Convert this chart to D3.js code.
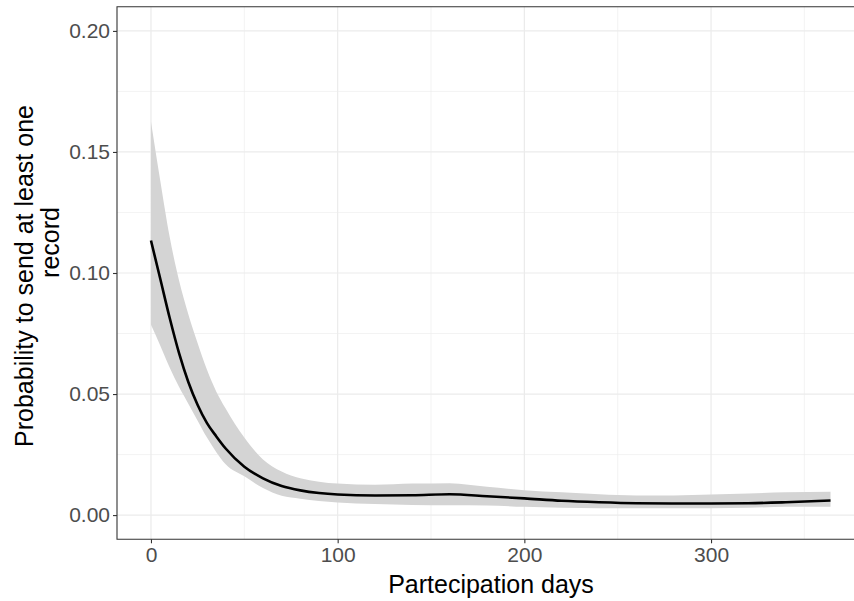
<!DOCTYPE html>
<html>
<head>
<meta charset="utf-8">
<script src="https://cdn.jsdelivr.net/npm/d3@7"></script>
<style>
    html, body { margin: 0; padding: 0; background: #fff; overflow: hidden; }
    svg { display: block; overflow: hidden; font-family: "Liberation Sans", Arial, sans-serif; }
</style>
</head>
<body>
<div id="chart"></div>
<script>
// smoothed probability curve with confidence band
const days  = [0, 5, 10, 15, 20, 25, 30, 35, 40, 50, 60, 70, 80, 90, 100, 120, 140, 160, 180, 200, 220, 240, 260, 280, 300, 320, 340, 364];
const fit   = [0.1134, 0.0975, 0.0815, 0.0670, 0.0550, 0.0455, 0.0380, 0.0325, 0.0275, 0.0200, 0.0152, 0.0120, 0.0102, 0.0091, 0.0085, 0.0081, 0.0082, 0.0086, 0.0078, 0.0069, 0.0059, 0.0053, 0.0049, 0.0048, 0.0048, 0.0049, 0.0053, 0.0060];
const upper = [0.1625, 0.138, 0.115, 0.097, 0.083, 0.071, 0.060, 0.051, 0.044, 0.032, 0.0230, 0.0180, 0.0152, 0.0138, 0.0130, 0.0125, 0.0130, 0.0132, 0.0117, 0.0103, 0.0094, 0.0086, 0.0081, 0.0081, 0.0085, 0.0089, 0.0094, 0.0096];
const lower = [0.0786, 0.070, 0.061, 0.053, 0.046, 0.039, 0.032, 0.026, 0.021, 0.016, 0.0112, 0.0080, 0.0068, 0.0058, 0.0052, 0.0046, 0.0042, 0.0041, 0.0040, 0.0034, 0.0030, 0.0028, 0.0028, 0.0028, 0.0028, 0.0030, 0.0034, 0.0034];

const xTicks = [0, 100, 200, 300];
const xMinor = [50, 150, 250, 350];
const yTicks = [0, 0.05, 0.10, 0.15, 0.20];
const yMinor = [0.025, 0.075, 0.125, 0.175];

const xTitle = 'Partecipation days';
const yTitle = ['Probability to send at least one', 'record'];

const width = 854, height = 601;
// panel runs past the right edge of the picture, as in the reference
const panel = { left: 117, right: 864.5, top: 6.7, bottom: 539.3 };

const svg = d3.select('#chart').append('svg')
    .attr('width', width)
    .attr('height', height);

const x = d3.scaleLinear().domain([-18.2, 382.2]).range([panel.left, panel.right]);
const y = d3.scaleLinear().domain([-0.01, 0.21]).range([panel.bottom, panel.top]);

const rows = days.map((d, i) => ({ day: d, fit: fit[i], lo: lower[i], hi: upper[i] }));

// grid
const grid = svg.append('g');
grid.selectAll('.xminor').data(xMinor).enter().append('line')
    .attr('x1', d => x(d)).attr('x2', d => x(d))
    .attr('y1', panel.top).attr('y2', panel.bottom)
    .attr('stroke', '#ebebeb').attr('stroke-width', 0.6);
grid.selectAll('.yminor').data(yMinor).enter().append('line')
    .attr('x1', panel.left).attr('x2', panel.right)
    .attr('y1', d => y(d)).attr('y2', d => y(d))
    .attr('stroke', '#ebebeb').attr('stroke-width', 0.6);
grid.selectAll('.xmajor').data(xTicks).enter().append('line')
    .attr('x1', d => x(d)).attr('x2', d => x(d))
    .attr('y1', panel.top).attr('y2', panel.bottom)
    .attr('stroke', '#ebebeb').attr('stroke-width', 1.2);
grid.selectAll('.ymajor').data(yTicks).enter().append('line')
    .attr('x1', panel.left).attr('x2', panel.right)
    .attr('y1', d => y(d)).attr('y2', d => y(d))
    .attr('stroke', '#ebebeb').attr('stroke-width', 1.2);

// confidence band
const band = d3.area()
    .x(d => x(d.day))
    .y0(d => y(d.lo))
    .y1(d => y(d.hi))
    .curve(d3.curveMonotoneX);

svg.append('path')
    .datum(rows)
    .attr('fill', '#d4d4d4')
    .attr('d', band);

// fitted line
const line = d3.line()
    .x(d => x(d.day))
    .y(d => y(d.fit))
    .curve(d3.curveMonotoneX);

svg.append('path')
    .datum(rows)
    .attr('fill', 'none')
    .attr('stroke', '#000')
    .attr('stroke-width', 2.6)
    .attr('d', line);

// panel border (only three sides fall inside the picture)
svg.append('path')
    .attr('d', `M${panel.right},${panel.top}H${panel.left}V${panel.bottom}H${panel.right}`)
    .attr('fill', 'none')
    .attr('stroke', '#333')
    .attr('stroke-width', 1.1);

// axes
const xAxis = svg.append('g')
    .attr('transform', `translate(0, ${panel.bottom})`)
    .call(d3.axisBottom(x).tickValues(xTicks).tickFormat(d3.format('d')).tickSize(4).tickSizeOuter(0).tickPadding(4));

const yAxis = svg.append('g')
    .attr('transform', `translate(${panel.left}, 0)`)
    .call(d3.axisLeft(y).tickValues(yTicks).tickFormat(d3.format('.2f')).tickSize(4).tickSizeOuter(0).tickPadding(3));

[xAxis, yAxis].forEach(ax => {
    ax.select('.domain').remove();
    ax.selectAll('.tick line').attr('stroke', '#333').attr('stroke-width', 1.1);
    ax.selectAll('.tick text')
        .style('font-size', '21px')
        .style('font-family', '"Liberation Sans", Arial, sans-serif')
        .attr('fill', '#4d4d4d');
});

// axis titles
svg.append('text')
    .attr('x', 491)
    .attr('y', 593)
    .attr('text-anchor', 'middle')
    .style('font-size', '25px')
    .attr('fill', '#000')
    .text(xTitle);

svg.append('text')
    .attr('transform', 'translate(33, 276) rotate(-90)')
    .attr('text-anchor', 'middle')
    .style('font-size', '25px')
    .attr('fill', '#000')
    .text(yTitle[0]);

svg.append('text')
    .attr('transform', 'translate(59, 242.5) rotate(-90)')
    .attr('text-anchor', 'middle')
    .style('font-size', '25px')
    .attr('fill', '#000')
    .text(yTitle[1]);
</script>
</body>
</html>
